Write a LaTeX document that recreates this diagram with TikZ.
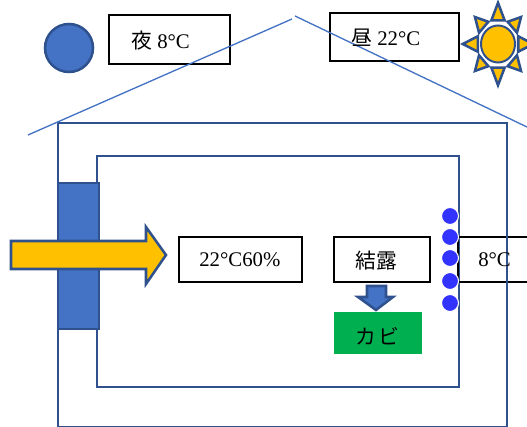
\documentclass[tikz,border=0pt]{standalone}
\usepackage{xcolor}
\usepackage{fontspec}
\setmainfont{Liberation Serif}
\newfontfamily\cjk{Noto Sans CJK JP}
\definecolor{wallblue}{RGB}{68,114,196}
\definecolor{darkblue}{RGB}{47,82,143}
\definecolor{sunyellow}{RGB}{255,192,0}
\definecolor{moldgreen}{RGB}{0,176,80}
\definecolor{dewblue}{RGB}{51,51,255}
\tikzset{
  labeltext/.style={anchor=west,inner sep=0.75pt,font=\fontsize{15.6}{18}\selectfont},
  textbox/.style={draw=black,line width=1.4pt},
  frame/.style={draw=darkblue,line width=1.9pt},
  solid shape/.style={draw=darkblue,line width=1.9pt,fill=#1},
  dew/.style={draw=white,line width=0.8pt,fill=dewblue}
}

\begin{document}
\begin{tikzpicture}[x=0.75pt,y=0.75pt,yscale=-1,xscale=1]
\useasboundingbox (0,0) rectangle (527,427);
\clip (0,0) rectangle (527,427);

%Shape: Outer wall
\draw [frame] (58,123) -- (507,123) -- (507,427) -- (58,427) -- cycle ;
%Shape: Inner wall
\draw [frame] (97,156) -- (459,156) -- (459,387) -- (97,387) -- cycle ;
%Shape: Wall section
\draw [solid shape=wallblue] (58,183) -- (99,183) -- (99,329) -- (58,329) -- cycle ;
%Shape: Right Arrow
\draw [solid shape=sunyellow] (11,241) -- (146,241) -- (146,227) -- (166,255) -- (146,284) -- (146,269) -- (11,269) -- cycle ;
%Shape: Night circle
\draw [solid shape=wallblue] (69,48) circle (24) ;
%Shape: Sun
\foreach \ang/\len in {0/40,45/37,90/40,135/37,180/40,225/37,270/40,315/37} {
  \draw [solid shape=sunyellow,line join=miter,shift={(498,44)},yscale=1.03,xscale=0.88,rotate=\ang] (23,-7.5) -- (\len,0) -- (23,7.5) -- cycle ;
}
\draw [fill=sunyellow,draw=darkblue,line width=1.5pt] (498,44) ellipse (17 and 18.5) ;

%Shape: Text boxes
\draw [textbox] (109,15) -- (230,15) -- (230,64) -- (109,64) -- cycle ;
\draw [textbox] (330,13) -- (459,13) -- (459,61) -- (330,61) -- cycle ;
\draw [textbox] (179,237) -- (302,237) -- (302,282) -- (179,282) -- cycle ;
\draw [textbox] (334,237) -- (430,237) -- (430,282) -- (334,282) -- cycle ;
\draw [textbox] (527,237) -- (458,237) -- (458,282) -- (527,282) ;
%Shape: Outer wall over the box
\draw [frame] (507,230) -- (507,290) ;
%Shape: Mold
\fill [moldgreen] (334,312) -- (422,312) -- (422,354) -- (334,354) -- cycle ;
%Shape: Down Arrow
\draw [solid shape=wallblue] (367,286) -- (386,286) -- (386,297) -- (393,297) -- (376,310) -- (358,297) -- (367,297) -- cycle ;
%Shape: Dew drops
\foreach \y in {216,237,258,281,303} {
  \draw [dew] (450,\y) circle (8.5) ;
}
%Roof
\draw [wallblue,line width=1pt] (28,135) -- (292,19) ;
\draw [wallblue,line width=1pt] (295,16) -- (527,127) ;

% Text Node
\node [labeltext] (nighttext) at (130,41) {{\cjk 夜} 8°C};
% Text Node
\node [labeltext] (daytext) at (350,38) {{\cjk 昼} 22°C};
% Text Node
\node [labeltext] (roomtext) at (198,260) {22°C60\%};
% Text Node
\node [labeltext] (dewtext) at (354,261) {\cjk 結露};
% Text Node
\node [labeltext] (outsidetext) at (477,260) {8°C};
% Text Node
\node [labeltext] (moldtext) at (354,336) {\cjk カ\hspace{2pt}ビ};

\end{tikzpicture}
\end{document}
